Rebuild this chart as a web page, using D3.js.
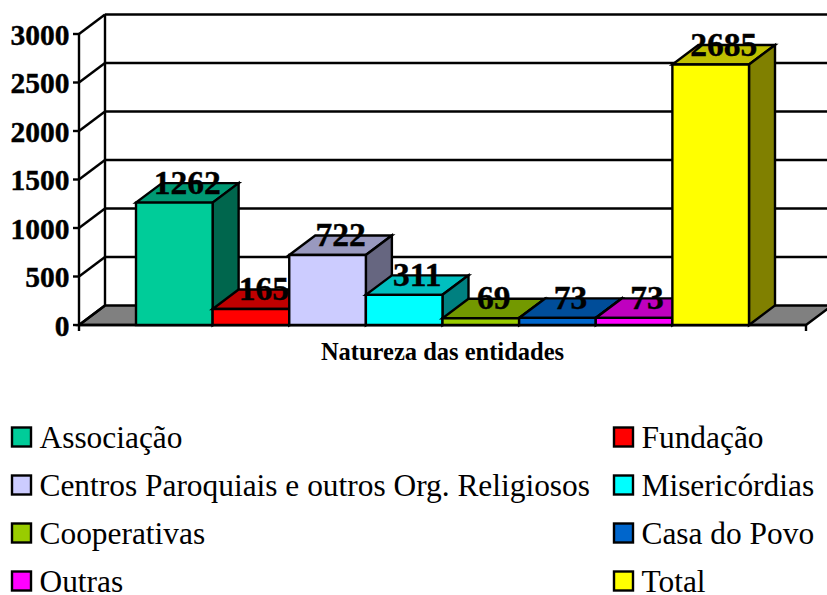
<!DOCTYPE html>
<html><head><meta charset="utf-8">
<script src="https://cdnjs.cloudflare.com/ajax/libs/d3/7.8.5/d3.min.js"></script>
<style>html,body{margin:0;padding:0;background:#fff}svg{display:block}text{font-family:"Liberation Serif",serif;fill:#000}</style>
</head><body><svg id="c" width="827" height="595"></svg>
<script>
const categories = ["Associação","Fundação","Centros Paroquiais e outros Org. Religiosos","Misericórdias","Cooperativas","Casa do Povo","Outras","Total"];
const values = [1262,165,722,311,69,73,73,2685];
const colors = ["#00CC99","#FF0000","#CCCCFF","#00FFFF","#99CC00","#0066CC","#FF00FF","#FFFF00"];
const yTicks = [0,500,1000,1500,2000,2500,3000];
const axisTitle = "Natureza das entidades";

const svg = d3.select("#c");
const dx = 26, dy = -19.5, lw = 2.4;
const y = d3.scaleLinear().domain([0,3000]).range([325,34]);
const xOuter = d3.scaleBand().domain(["g"]).range([79,806]);
const x = d3.scaleBand().domain(categories).range([136,749]);
const left = xOuter.range()[0], right = xOuter.range()[1];
const line = d3.line();
const poly = (pts,fill)=>svg.append("path").attr("d",line(pts)+"Z").attr("fill",fill)
  .attr("stroke","#000").attr("stroke-width",lw).attr("stroke-linejoin","miter");
const seg = (a,b)=>svg.append("path").attr("d",line([a,b])).attr("stroke","#000").attr("stroke-width",lw).attr("fill","none");

// floor
poly([[left,y(0)],[right,y(0)],[right+dx,y(0)+dy],[left+dx,y(0)+dy]],"#808080");
// walls and gridlines
seg([left+dx,y(0)+dy],[left+dx,y(3000)+dy]);
yTicks.forEach(t=>{
  seg([left,y(t)],[left+dx,y(t)+dy]);
  if(t>0) seg([left+dx,y(t)+dy],[right+dx,y(t)+dy]);
});
// axis
seg([left,y(3000)],[left,y(0)+6]);
seg([left,y(0)],[right,y(0)]);
seg([right,y(0)],[right,y(0)+6]);
yTicks.forEach(t=>{
  seg([left-6,y(t)],[left,y(t)]);
  svg.append("text").attr("x",69.5).attr("y",y(t)+10.5).attr("text-anchor","end")
    .attr("font-size",29.5).attr("font-weight","bold").attr("stroke","#000").attr("stroke-width",0.4).text(t);
});
// bars
const shade=(c,k)=>{const r=d3.rgb(c);return d3.rgb(r.r*k,r.g*k,r.b*k).formatHex();};
categories.forEach((c,i)=>{
  const x0=x(c), x1=x0+x.bandwidth(), yt=y(values[i]), yb=y(0);
  poly([[x0,yt],[x1,yt],[x1+dx,yt+dy],[x0+dx,yt+dy]],shade(colors[i],0.75));
  poly([[x1,yt],[x1+dx,yt+dy],[x1+dx,yb+dy],[x1,yb]],shade(colors[i],0.5));
  poly([[x0,yt],[x1,yt],[x1,yb],[x0,yb]],colors[i]);
});
// value labels
categories.forEach((c,i)=>{
  svg.append("text").attr("x",x(c)+x.bandwidth()/2+13).attr("y",y(values[i])-9)
    .attr("text-anchor","middle").attr("font-size",33.5).attr("font-weight","bold").attr("stroke","#000").attr("stroke-width",0.4).text(values[i]);
});
svg.append("text").attr("x",442.5).attr("y",360).attr("text-anchor","middle")
  .attr("font-size",24.5).attr("font-weight","bold").text(axisTitle);
// legend
const rowY=d3.scalePoint().domain([0,1,2,3]).range([448,592]);
const colX=d3.scalePoint().domain([0,1]).range([11,613]);
categories.forEach((c,i)=>{
  const col=i%2,row=Math.floor(i/2),sx=colX(col),by=rowY(row);
  svg.append("rect").attr("x",sx+1).attr("y",by-20.5).attr("width",19).attr("height",19)
    .attr("fill",colors[i]).attr("stroke","#000").attr("stroke-width",2.4);
  svg.append("text").attr("x",sx+28.5).attr("y",by).attr("font-size",31.4).text(c);
});
</script></body></html>
